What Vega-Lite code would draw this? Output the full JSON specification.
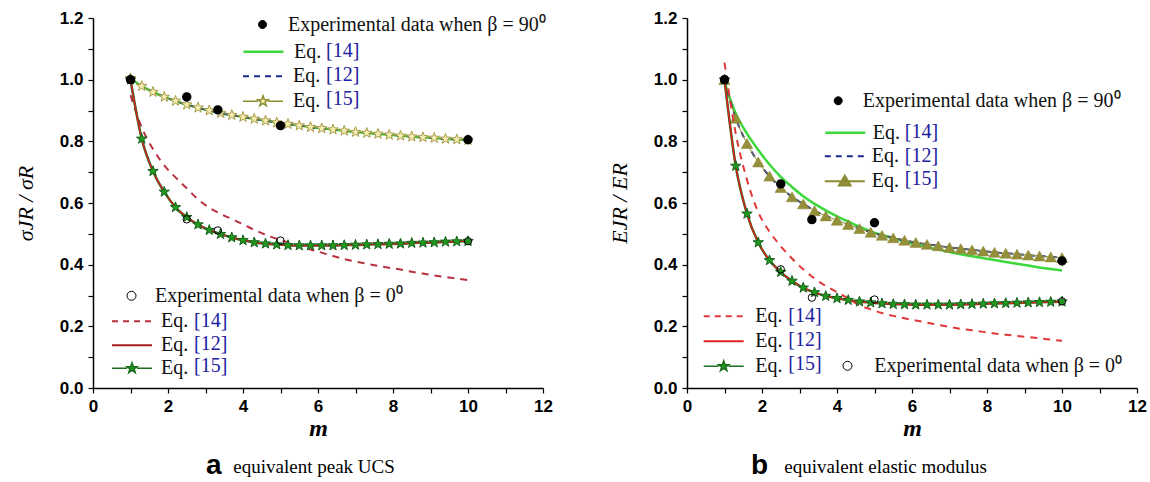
{
  "$schema": "https://vega.github.io/schema/vega-lite/v6.json",
  "background": "white",
  "padding": {"left": 14, "top": 9, "right": 0, "bottom": 0},
  "spacing": 55,
  "config": {
    "view": {"stroke": null},
    "axis": {"grid": false, "domainColor": "#000", "domainWidth": 1.5, "tickColor": "#000", "tickWidth": 1.2, "tickSize": 5, "labelFont": "Liberation Sans", "labelFontSize": 17, "labelFontWeight": "bold", "labelColor": "#000", "labelOverlap": false, "labelFlush": false, "labelBound": false, "labelPadding": 5, "titleColor": "#000", "titleFont": "Liberation Serif"},
    "legend": {"padding": 0, "symbolSize": 400, "symbolStrokeWidth": 2, "labelFont": "Liberation Serif", "labelFontSize": 20, "labelColor": "#111", "labelLimit": 0, "rowPadding": 3}
  },
  "datasets": {
    "a": [
      {"m":1.0,"up":1.004,"lo":1.000,"l14":0.950},
      {"m":1.3,"up":0.979,"lo":0.808,"l14":0.845},
      {"m":1.6,"up":0.960,"lo":0.703,"l14":0.775},
      {"m":1.9,"up":0.944,"lo":0.636,"l14":0.722},
      {"m":2.2,"up":0.931,"lo":0.586,"l14":0.683},
      {"m":2.5,"up":0.919,"lo":0.554,"l14":0.648},
      {"m":2.8,"up":0.909,"lo":0.530,"l14":0.612},
      {"m":3.1,"up":0.900,"lo":0.512,"l14":0.585},
      {"m":3.4,"up":0.892,"lo":0.499,"l14":0.565},
      {"m":3.7,"up":0.885,"lo":0.488,"l14":0.548},
      {"m":4.0,"up":0.879,"lo":0.479,"l14":0.531},
      {"m":4.3,"up":0.873,"lo":0.472,"l14":0.513},
      {"m":4.6,"up":0.867,"lo":0.468,"l14":0.497},
      {"m":4.9,"up":0.861,"lo":0.465,"l14":0.484},
      {"m":5.2,"up":0.856,"lo":0.463,"l14":0.472},
      {"m":5.5,"up":0.851,"lo":0.462,"l14":0.461},
      {"m":5.8,"up":0.846,"lo":0.462,"l14":0.449},
      {"m":6.1,"up":0.842,"lo":0.462,"l14":0.439},
      {"m":6.4,"up":0.838,"lo":0.462,"l14":0.428},
      {"m":6.7,"up":0.834,"lo":0.463,"l14":0.418},
      {"m":7.0,"up":0.830,"lo":0.464,"l14":0.410},
      {"m":7.3,"up":0.827,"lo":0.465,"l14":0.403},
      {"m":7.6,"up":0.824,"lo":0.466,"l14":0.396},
      {"m":7.9,"up":0.821,"lo":0.467,"l14":0.390},
      {"m":8.2,"up":0.818,"lo":0.468,"l14":0.384},
      {"m":8.5,"up":0.815,"lo":0.470,"l14":0.377},
      {"m":8.8,"up":0.813,"lo":0.471,"l14":0.371},
      {"m":9.1,"up":0.811,"lo":0.472,"l14":0.365},
      {"m":9.4,"up":0.808,"lo":0.474,"l14":0.360},
      {"m":9.7,"up":0.806,"lo":0.475,"l14":0.355},
      {"m":10.0,"up":0.804,"lo":0.476,"l14":0.350}
    ],
    "b": [
      {"m":1.0,"up":1.000,"u14":0.990,"lo":1.000,"l14":1.055},
      {"m":1.3,"up":0.875,"u14":0.890,"lo":0.720,"l14":0.825},
      {"m":1.6,"up":0.793,"u14":0.825,"lo":0.565,"l14":0.675},
      {"m":1.9,"up":0.733,"u14":0.772,"lo":0.472,"l14":0.570},
      {"m":2.2,"up":0.687,"u14":0.725,"lo":0.414,"l14":0.507},
      {"m":2.5,"up":0.650,"u14":0.685,"lo":0.376,"l14":0.460},
      {"m":2.8,"up":0.620,"u14":0.652,"lo":0.347,"l14":0.420},
      {"m":3.1,"up":0.597,"u14":0.622,"lo":0.325,"l14":0.385},
      {"m":3.4,"up":0.575,"u14":0.597,"lo":0.310,"l14":0.355},
      {"m":3.7,"up":0.558,"u14":0.576,"lo":0.298,"l14":0.331},
      {"m":4.0,"up":0.544,"u14":0.557,"lo":0.291,"l14":0.311},
      {"m":4.3,"up":0.530,"u14":0.540,"lo":0.285,"l14":0.290},
      {"m":4.6,"up":0.517,"u14":0.523,"lo":0.280,"l14":0.268},
      {"m":4.9,"up":0.505,"u14":0.508,"lo":0.277,"l14":0.255},
      {"m":5.2,"up":0.495,"u14":0.496,"lo":0.274,"l14":0.243},
      {"m":5.5,"up":0.487,"u14":0.486,"lo":0.272,"l14":0.234},
      {"m":5.8,"up":0.479,"u14":0.475,"lo":0.271,"l14":0.226},
      {"m":6.1,"up":0.472,"u14":0.466,"lo":0.270,"l14":0.219},
      {"m":6.4,"up":0.466,"u14":0.457,"lo":0.270,"l14":0.212},
      {"m":6.7,"up":0.461,"u14":0.449,"lo":0.270,"l14":0.205},
      {"m":7.0,"up":0.456,"u14":0.441,"lo":0.270,"l14":0.198},
      {"m":7.3,"up":0.452,"u14":0.434,"lo":0.271,"l14":0.192},
      {"m":7.6,"up":0.448,"u14":0.427,"lo":0.272,"l14":0.187},
      {"m":7.9,"up":0.444,"u14":0.421,"lo":0.273,"l14":0.182},
      {"m":8.2,"up":0.440,"u14":0.415,"lo":0.274,"l14":0.177},
      {"m":8.5,"up":0.437,"u14":0.409,"lo":0.275,"l14":0.173},
      {"m":8.8,"up":0.434,"u14":0.403,"lo":0.276,"l14":0.169},
      {"m":9.1,"up":0.431,"u14":0.397,"lo":0.277,"l14":0.165},
      {"m":9.4,"up":0.428,"u14":0.391,"lo":0.278,"l14":0.161},
      {"m":9.7,"up":0.425,"u14":0.386,"lo":0.279,"l14":0.157},
      {"m":10.0,"up":0.423,"u14":0.381,"lo":0.280,"l14":0.153}
    ],
    "ea": [
      {"m":1.0,"e90":1.000,"e0":1.000},
      {"m":2.5,"e90":0.944,"e0":0.547},
      {"m":3.33,"e90":0.902,"e0":0.511},
      {"m":5.0,"e90":0.851,"e0":0.478},
      {"m":10.0,"e90":0.805,"e0":0.476}
    ],
    "eb": [
      {"m":1.0,"e90":1.000,"e0":1.000},
      {"m":2.5,"e90":0.662,"e0":0.385},
      {"m":3.33,"e90":0.546,"e0":0.293},
      {"m":5.0,"e90":0.536,"e0":0.287},
      {"m":10.0,"e90":0.412,"e0":0.281}
    ]
  },
  "hconcat": [
    {
      "title": {"text": "equivalent peak UCS", "orient": "bottom", "anchor": "start", "frame": "bounds", "dx": 219, "offset": -22, "font": "Liberation Serif", "fontSize": 19, "fontWeight": "normal", "color": "#000"},
      "hconcat": [
        {
          "width": 450,
          "height": 370,
          "title": {"text": "a", "orient": "bottom", "anchor": "start", "frame": "group", "dx": 113, "offset": 12, "font": "Liberation Sans", "fontSize": 28, "fontWeight": "bold", "color": "#000"},
          "data": {"name": "a"},
          "resolve": {"scale": {"shape": "independent"}},
          "encoding": {
            "x": {"field": "m", "type": "quantitative", "scale": {"domain": [0, 12], "nice": false},
              "axis": {"values": [0,1,2,3,4,5,6,7,8,9,10,11,12], "labelExpr": "datum.value % 2 == 0 ? datum.label : ''", "title": "m", "titleFontStyle": "italic", "titleFontWeight": "bold", "titleFontSize": 24, "titlePadding": 2}},
            "y": {"field": "v", "type": "quantitative", "scale": {"domain": [0, 1.2], "nice": false},
              "axis": {"values": [0,0.1,0.2,0.3,0.4,0.5,0.6,0.7,0.8,0.9,1.0,1.1,1.2], "labelExpr": "round(datum.value*10) % 2 == 0 ? format(datum.value, '.1f') : ''", "title": "σJR / σR", "titleFontStyle": "italic", "titleFontWeight": "normal", "titleFontSize": 22, "titlePadding": 22}}
          },
          "layer": [
            {"transform": [{"fold": ["up"], "as": ["k", "v"]}], "mark": {"type": "line", "interpolate": "monotone", "color": "#3cd83c", "strokeWidth": 2.5}},
            {"transform": [{"fold": ["up"], "as": ["k", "v"]}], "mark": {"type": "line", "interpolate": "monotone", "color": "#1c2a8c", "strokeWidth": 2, "strokeDash": [6, 5]}},
            {"transform": [{"fold": ["up"], "as": ["k", "v"]}], "mark": {"type": "line", "interpolate": "monotone", "color": "#8c8c30", "strokeWidth": 1}},
            {"transform": [{"fold": ["up"], "as": ["k", "v"]}], "mark": {"type": "point", "shape": "M0,-1L0.235,-0.324L0.951,-0.309L0.38,0.124L0.588,0.809L0,0.4L-0.588,0.809L-0.38,0.124L-0.951,-0.309L-0.235,-0.324Z", "size": 120, "filled": true, "fill": "#f5eeb0", "stroke": "#a89a48", "strokeWidth": 1, "opacity": 1}},
            {"transform": [{"fold": ["l14"], "as": ["k", "v"]}], "mark": {"type": "line", "interpolate": "monotone", "color": "#b83040", "strokeWidth": 2, "strokeDash": [7, 6]}},
            {"transform": [{"fold": ["lo"], "as": ["k", "v"]}], "mark": {"type": "line", "interpolate": "monotone", "color": "#1b6e1b", "strokeWidth": 2.5}},
            {"transform": [{"fold": ["lo"], "as": ["k", "v"]}], "mark": {"type": "line", "interpolate": "monotone", "color": "#cc2424", "strokeWidth": 1.5}},
            {"transform": [{"fold": ["lo"], "as": ["k", "v"]}], "mark": {"type": "point", "shape": "M0,-1L0.235,-0.324L0.951,-0.309L0.38,0.124L0.588,0.809L0,0.4L-0.588,0.809L-0.38,0.124L-0.951,-0.309L-0.235,-0.324Z", "size": 120, "filled": true, "fill": "#1f9a1f", "stroke": "#16601a", "strokeWidth": 1, "opacity": 1}},
            {"data": {"name": "ea"}, "transform": [{"fold": ["e90"], "as": ["k", "v"]}], "mark": {"type": "point", "shape": "circle", "size": 55, "filled": true, "fill": "#000", "stroke": "#000", "opacity": 1}},
            {"data": {"name": "ea"}, "transform": [{"fold": ["e0"], "as": ["k", "v"]}], "mark": {"type": "point", "shape": "circle", "size": 55, "filled": false, "stroke": "#000", "strokeWidth": 1, "opacity": 1}},

            {"data": {"values": []}, "mark": {"type": "point", "filled": true, "fill": "#000", "stroke": "#000", "strokeWidth": 1, "opacity": 1},
              "encoding": {"shape": {"field": "g", "type": "nominal", "scale": {"domain": ["e90"], "range": ["M-0.4,0A0.4,0.4 0 1,0 0.4,0A0.4,0.4 0 1,0 -0.4,0Z"]},
                "legend": {"orient": "none", "legendX": 159, "legendY": -4, "title": null, "labelOffset": 15, "symbolStrokeWidth": 1, "labelExpr": "'Experimental data when β = 90⁰'"}}}},
            {"data": {"values": []}, "mark": {"type": "point", "filled": true, "fill": "transparent", "stroke": "#3cd83c", "strokeWidth": 2.5, "opacity": 1},
              "encoding": {"shape": {"field": "g", "type": "nominal", "scale": {"domain": ["p14"], "range": ["M-2,0H2"]},
                "legend": {"orient": "none", "legendX": 159, "legendY": 22.3, "title": null, "labelOffset": 19, "symbolStrokeWidth": 2.5, "labelExpr": "'Eq.'"}}}},
            {"data": {"values": []}, "mark": {"type": "point", "filled": true, "fill": "transparent", "stroke": "#1c2a8c", "strokeWidth": 2, "strokeDash": [6, 5], "opacity": 1},
              "encoding": {"shape": {"field": "g", "type": "nominal", "scale": {"domain": ["p12"], "range": ["M-2,0H2"]},
                "legend": {"orient": "none", "legendX": 159, "legendY": 47.3, "title": null, "labelOffset": 19, "symbolDash": [6, 5], "labelExpr": "'Eq.'"}}}},
            {"data": {"values": []}, "mark": {"type": "point", "filled": true, "fill": "#f5eeb0", "stroke": "#8c8c30", "strokeWidth": 1.5, "opacity": 1},
              "encoding": {"shape": {"field": "g", "type": "nominal", "scale": {"domain": ["p15"], "range": ["M-2,0H-0.5M0.5,0H2M0,-0.55L0.129,-0.178L0.523,-0.17L0.209,0.068L0.323,0.445L0,0.22L-0.323,0.445L-0.209,0.068L-0.523,-0.17L-0.129,-0.178Z"]},
                "legend": {"orient": "none", "legendX": 159, "legendY": 72.3, "title": null, "labelOffset": 19, "symbolStrokeWidth": 1.5, "labelExpr": "'Eq.'"}}}},
            {"data": {"values": []}, "mark": {"type": "point"},
              "encoding": {"shape": {"field": "g", "type": "nominal", "scale": {"domain": ["q14", "q12", "q15"], "range": ["M-2,0H2", "M-2,0H2", "M-2,0H2"]},
                "legend": {"orient": "none", "legendX": 159, "legendY": 22.3, "title": null, "rowPadding": 3, "labelOffset": 52, "symbolOpacity": 0, "labelColor": "#2020a0", "labelExpr": "'[' + substring(datum.value, 1) + ']'"}}}},
            {"data": {"values": []}, "mark": {"type": "point", "filled": false, "stroke": "#000", "strokeWidth": 1, "opacity": 1},
              "encoding": {"shape": {"field": "g", "type": "nominal", "scale": {"domain": ["e0"], "range": ["M-0.45,0A0.45,0.45 0 1,0 0.45,0A0.45,0.45 0 1,0 -0.45,0Z"]},
                "legend": {"orient": "none", "legendX": 28, "legendY": 267.3, "title": null, "labelOffset": 13, "symbolStrokeWidth": 1, "labelExpr": "'Experimental data when β = 0⁰'"}}}},
            {"data": {"values": []}, "mark": {"type": "point", "filled": true, "fill": "transparent", "stroke": "#b83040", "strokeWidth": 2, "strokeDash": [6, 5], "opacity": 1},
              "encoding": {"shape": {"field": "g", "type": "nominal", "scale": {"domain": ["r14"], "range": ["M-2,0H2"]},
                "legend": {"orient": "none", "legendX": 28, "legendY": 292.3, "title": null, "labelOffset": 18, "symbolDash": [6, 5], "labelExpr": "'Eq.'"}}}},
            {"data": {"values": []}, "mark": {"type": "point", "filled": true, "fill": "transparent", "stroke": "#a81c1c", "strokeWidth": 2, "opacity": 1},
              "encoding": {"shape": {"field": "g", "type": "nominal", "scale": {"domain": ["r12"], "range": ["M-2,0H2"]},
                "legend": {"orient": "none", "legendX": 28, "legendY": 316.3, "title": null, "labelOffset": 18, "labelExpr": "'Eq.'"}}}},
            {"data": {"values": []}, "mark": {"type": "point", "filled": true, "fill": "#1f9a1f", "stroke": "#1b6e1b", "strokeWidth": 1.5, "opacity": 1},
              "encoding": {"shape": {"field": "g", "type": "nominal", "scale": {"domain": ["r15"], "range": ["M-2,0H-0.5M0.5,0H2M0,-0.55L0.129,-0.178L0.523,-0.17L0.209,0.068L0.323,0.445L0,0.22L-0.323,0.445L-0.209,0.068L-0.523,-0.17L-0.129,-0.178Z"]},
                "legend": {"orient": "none", "legendX": 28, "legendY": 339.3, "title": null, "labelOffset": 18, "symbolStrokeWidth": 1.5, "labelExpr": "'Eq.'"}}}},
            {"data": {"values": []}, "mark": {"type": "point"},
              "encoding": {"shape": {"field": "g", "type": "nominal", "scale": {"domain": ["s14", "s12", "s15"], "range": ["M-2,0H2", "M-2,0H2", "M-2,0H2"]},
                "legend": {"orient": "none", "legendX": 28, "legendY": 292.3, "title": null, "rowPadding": 1.5, "labelOffset": 51, "symbolOpacity": 0, "labelColor": "#2020a0", "labelExpr": "'[' + substring(datum.value, 1) + ']'"}}}}
          ]
        }
      ]
    },
    {
      "title": {"text": "equivalent elastic modulus", "orient": "bottom", "anchor": "start", "frame": "bounds", "dx": 176, "offset": -22, "font": "Liberation Serif", "fontSize": 19, "fontWeight": "normal", "color": "#000"},
      "hconcat": [
        {
          "width": 450,
          "height": 370,
          "title": {"text": "b", "orient": "bottom", "anchor": "start", "frame": "group", "dx": 64, "offset": 12, "font": "Liberation Sans", "fontSize": 28, "fontWeight": "bold", "color": "#000"},
          "data": {"name": "b"},
          "resolve": {"scale": {"shape": "independent"}},
          "encoding": {
            "x": {"field": "m", "type": "quantitative", "scale": {"domain": [0, 12], "nice": false},
              "axis": {"values": [0,1,2,3,4,5,6,7,8,9,10,11,12], "labelExpr": "datum.value % 2 == 0 ? datum.label : ''", "title": "m", "titleFontStyle": "italic", "titleFontWeight": "bold", "titleFontSize": 24, "titlePadding": 2}},
            "y": {"field": "v", "type": "quantitative", "scale": {"domain": [0, 1.2], "nice": false},
              "axis": {"values": [0,0.1,0.2,0.3,0.4,0.5,0.6,0.7,0.8,0.9,1.0,1.1,1.2], "labelExpr": "round(datum.value*10) % 2 == 0 ? format(datum.value, '.1f') : ''", "title": "EJR / ER", "titleFontStyle": "italic", "titleFontWeight": "normal", "titleFontSize": 22, "titlePadding": 22}}
          },
          "layer": [
            {"transform": [{"fold": ["u14"], "as": ["k", "v"]}], "mark": {"type": "line", "interpolate": "monotone", "color": "#3cd83c", "strokeWidth": 2.5}},
            {"transform": [{"fold": ["up"], "as": ["k", "v"]}], "mark": {"type": "line", "interpolate": "monotone", "color": "#1c2a8c", "strokeWidth": 2, "strokeDash": [6, 5]}},
            {"transform": [{"fold": ["up"], "as": ["k", "v"]}], "mark": {"type": "line", "interpolate": "monotone", "color": "#8c8a35", "strokeWidth": 1}},
            {"transform": [{"fold": ["up"], "as": ["k", "v"]}], "mark": {"type": "point", "shape": "triangle-up", "size": 130, "filled": true, "fill": "#958f3a", "stroke": "#858030", "strokeWidth": 0.5, "opacity": 1}},
            {"transform": [{"fold": ["l14"], "as": ["k", "v"]}], "mark": {"type": "line", "interpolate": "monotone", "color": "#e03838", "strokeWidth": 2, "strokeDash": [7, 6]}},
            {"transform": [{"fold": ["lo"], "as": ["k", "v"]}], "mark": {"type": "line", "interpolate": "monotone", "color": "#1b6e1b", "strokeWidth": 2.5}},
            {"transform": [{"fold": ["lo"], "as": ["k", "v"]}], "mark": {"type": "line", "interpolate": "monotone", "color": "#e02020", "strokeWidth": 1.5}},
            {"transform": [{"fold": ["lo"], "as": ["k", "v"]}], "mark": {"type": "point", "shape": "M0,-1L0.235,-0.324L0.951,-0.309L0.38,0.124L0.588,0.809L0,0.4L-0.588,0.809L-0.38,0.124L-0.951,-0.309L-0.235,-0.324Z", "size": 120, "filled": true, "fill": "#1f9a1f", "stroke": "#16601a", "strokeWidth": 1, "opacity": 1}},
            {"data": {"name": "eb"}, "transform": [{"fold": ["e90"], "as": ["k", "v"]}], "mark": {"type": "point", "shape": "circle", "size": 55, "filled": true, "fill": "#000", "stroke": "#000", "opacity": 1}},
            {"data": {"name": "eb"}, "transform": [{"fold": ["e0"], "as": ["k", "v"]}], "mark": {"type": "point", "shape": "circle", "size": 55, "filled": false, "stroke": "#000", "strokeWidth": 1, "opacity": 1}},

            {"data": {"values": []}, "mark": {"type": "point", "filled": true, "fill": "#000", "stroke": "#000", "strokeWidth": 1, "opacity": 1},
              "encoding": {"shape": {"field": "g", "type": "nominal", "scale": {"domain": ["e90"], "range": ["M-0.4,0A0.4,0.4 0 1,0 0.4,0A0.4,0.4 0 1,0 -0.4,0Z"]},
                "legend": {"orient": "none", "legendX": 140.7, "legendY": 72.3, "title": null, "labelOffset": 14, "symbolStrokeWidth": 1, "labelExpr": "'Experimental data when β = 90⁰'"}}}},
            {"data": {"values": []}, "mark": {"type": "point", "filled": true, "fill": "transparent", "stroke": "#3cd83c", "strokeWidth": 2.5, "opacity": 1},
              "encoding": {"shape": {"field": "g", "type": "nominal", "scale": {"domain": ["p14"], "range": ["M-2,0H2"]},
                "legend": {"orient": "none", "legendX": 146.8, "legendY": 103.3, "title": null, "labelOffset": 16, "symbolStrokeWidth": 2.5, "labelExpr": "'Eq.'"}}}},
            {"data": {"values": []}, "mark": {"type": "point", "filled": true, "fill": "transparent", "stroke": "#1c2a8c", "strokeWidth": 2, "strokeDash": [6, 5], "opacity": 1},
              "encoding": {"shape": {"field": "g", "type": "nominal", "scale": {"domain": ["p12"], "range": ["M-2,0H2"]},
                "legend": {"orient": "none", "legendX": 146.8, "legendY": 127.3, "title": null, "labelOffset": 16, "symbolDash": [6, 5], "labelExpr": "'Eq.'"}}}},
            {"data": {"values": []}, "mark": {"type": "point", "filled": true, "fill": "#958f3a", "stroke": "#8c8a35", "strokeWidth": 2, "opacity": 1},
              "encoding": {"shape": {"field": "g", "type": "nominal", "scale": {"domain": ["p15"], "range": ["M-2,0H2M0,-0.55L0.58,0.42L-0.58,0.42Z"]},
                "legend": {"orient": "none", "legendX": 146.8, "legendY": 152.3, "title": null, "labelOffset": 16, "labelExpr": "'Eq.'"}}}},
            {"data": {"values": []}, "mark": {"type": "point"},
              "encoding": {"shape": {"field": "g", "type": "nominal", "scale": {"domain": ["q14", "q12", "q15"], "range": ["M-2,0H2", "M-2,0H2", "M-2,0H2"]},
                "legend": {"orient": "none", "legendX": 146.8, "legendY": 103.3, "title": null, "rowPadding": 2.5, "labelOffset": 49, "symbolOpacity": 0, "labelColor": "#2020a0", "labelExpr": "'[' + substring(datum.value, 1) + ']'"}}}},
            {"data": {"values": []}, "mark": {"type": "point", "filled": true, "fill": "transparent", "stroke": "#e03838", "strokeWidth": 2, "strokeDash": [6, 5], "opacity": 1},
              "encoding": {"shape": {"field": "g", "type": "nominal", "scale": {"domain": ["r14"], "range": ["M-2,0H2"]},
                "legend": {"orient": "none", "legendX": 25.7, "legendY": 287.3, "title": null, "labelOffset": 20.6, "symbolDash": [6, 5], "labelExpr": "'Eq.'"}}}},
            {"data": {"values": []}, "mark": {"type": "point", "filled": true, "fill": "transparent", "stroke": "#e02020", "strokeWidth": 2, "opacity": 1},
              "encoding": {"shape": {"field": "g", "type": "nominal", "scale": {"domain": ["r12"], "range": ["M-2,0H2"]},
                "legend": {"orient": "none", "legendX": 25.7, "legendY": 312.3, "title": null, "labelOffset": 20.6, "labelExpr": "'Eq.'"}}}},
            {"data": {"values": []}, "mark": {"type": "point", "filled": true, "fill": "#1f9a1f", "stroke": "#1b6e1b", "strokeWidth": 1.5, "opacity": 1},
              "encoding": {"shape": {"field": "g", "type": "nominal", "scale": {"domain": ["r15"], "range": ["M-2,0H-0.5M0.5,0H2M0,-0.55L0.129,-0.178L0.523,-0.17L0.209,0.068L0.323,0.445L0,0.22L-0.323,0.445L-0.209,0.068L-0.523,-0.17L-0.129,-0.178Z"]},
                "legend": {"orient": "none", "legendX": 25.7, "legendY": 337.3, "title": null, "labelOffset": 20.6, "symbolStrokeWidth": 1.5, "labelExpr": "'Eq.'"}}}},
            {"data": {"values": []}, "mark": {"type": "point"},
              "encoding": {"shape": {"field": "g", "type": "nominal", "scale": {"domain": ["s14", "s12", "s15"], "range": ["M-2,0H2", "M-2,0H2", "M-2,0H2"]},
                "legend": {"orient": "none", "legendX": 25.7, "legendY": 287.3, "title": null, "rowPadding": 3, "labelOffset": 53.6, "symbolOpacity": 0, "labelColor": "#2020a0", "labelExpr": "'[' + substring(datum.value, 1) + ']'"}}}},
            {"data": {"values": []}, "mark": {"type": "point", "filled": false, "stroke": "#000", "strokeWidth": 1, "opacity": 1},
              "encoding": {"shape": {"field": "g", "type": "nominal", "scale": {"domain": ["e0"], "range": ["M-0.45,0A0.45,0.45 0 1,0 0.45,0A0.45,0.45 0 1,0 -0.45,0Z"]},
                "legend": {"orient": "none", "legendX": 150, "legendY": 337.3, "title": null, "labelOffset": 16.3, "symbolStrokeWidth": 1, "labelExpr": "'Experimental data when β = 0⁰'"}}}}
          ]
        }
      ]
    }
  ]
}
